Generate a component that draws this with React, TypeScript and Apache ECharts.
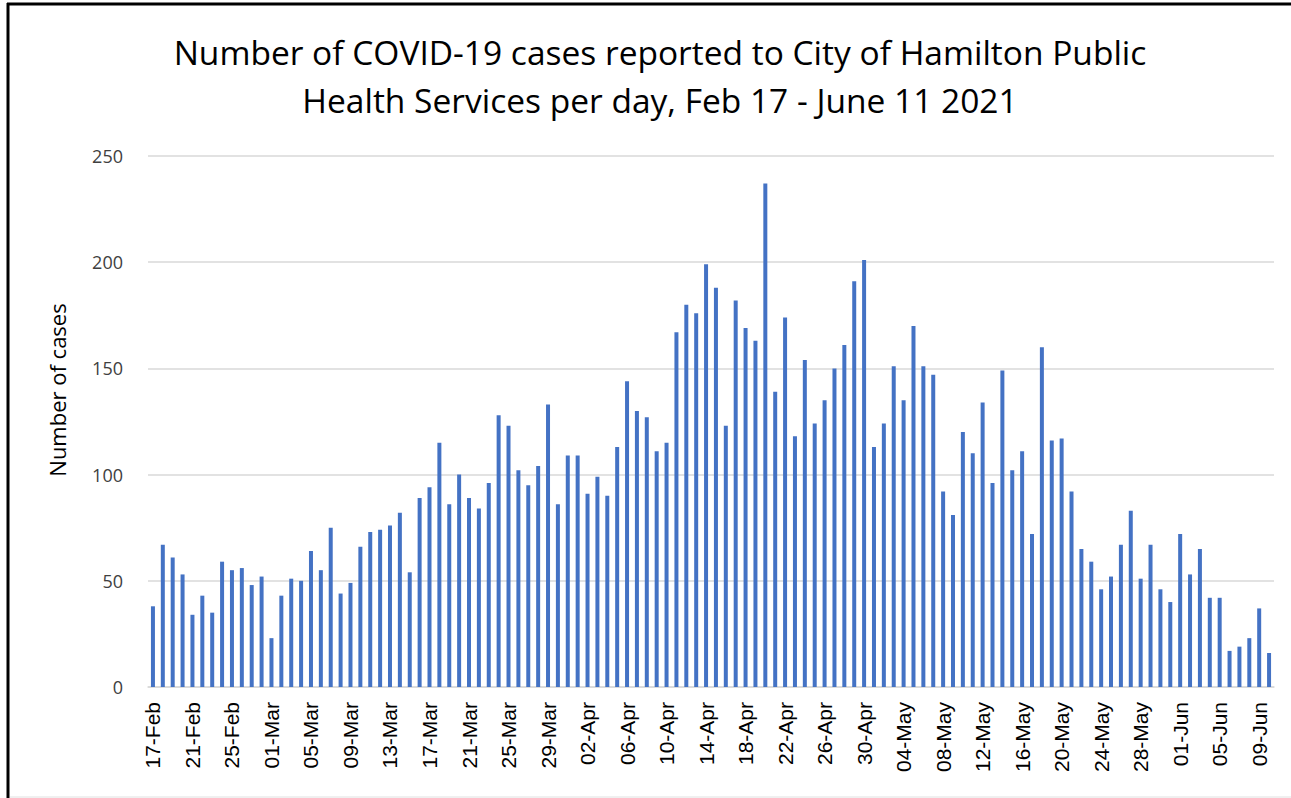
import React, { useEffect, useRef } from "react";
import * as echarts from "echarts";

const titleLines = [
  "Number of COVID-19 cases reported to City of Hamilton Public",
  "Health Services per day, Feb 17 - June 11 2021",
];
const yAxisName = "Number of cases";

const dates: string[] = [
  "17-Feb","18-Feb","19-Feb","20-Feb","21-Feb","22-Feb","23-Feb","24-Feb","25-Feb","26-Feb","27-Feb","28-Feb",
  "01-Mar","02-Mar","03-Mar","04-Mar","05-Mar","06-Mar","07-Mar","08-Mar","09-Mar","10-Mar","11-Mar","12-Mar","13-Mar","14-Mar","15-Mar","16-Mar","17-Mar","18-Mar","19-Mar","20-Mar","21-Mar","22-Mar","23-Mar","24-Mar","25-Mar","26-Mar","27-Mar","28-Mar","29-Mar","30-Mar","31-Mar",
  "01-Apr","02-Apr","03-Apr","04-Apr","05-Apr","06-Apr","07-Apr","08-Apr","09-Apr","10-Apr","11-Apr","12-Apr","13-Apr","14-Apr","15-Apr","16-Apr","17-Apr","18-Apr","19-Apr","20-Apr","21-Apr","22-Apr","23-Apr","24-Apr","25-Apr","26-Apr","27-Apr","28-Apr","29-Apr","30-Apr",
  "01-May","02-May","03-May","04-May","05-May","06-May","07-May","08-May","09-May","10-May","11-May","12-May","13-May","14-May","15-May","16-May","17-May","18-May","19-May","20-May","21-May","22-May","23-May","24-May","25-May","26-May","27-May","28-May","29-May","30-May","31-May",
  "01-Jun","02-Jun","03-Jun","04-Jun","05-Jun","06-Jun","07-Jun","08-Jun","09-Jun","10-Jun",
];

const cases: number[] = [
  38, 67, 61, 53, 34, 43, 35, 59, 55, 56, 48, 52,
  23, 43, 51, 50, 64, 55, 75, 44, 49, 66, 73, 74, 76, 82, 54, 89, 94, 115, 86, 100, 89, 84, 96, 128, 123, 102, 95, 104, 133, 86, 109,
  109, 91, 99, 90, 113, 144, 130, 127, 111, 115, 167, 180, 176, 199, 188, 123, 182, 169, 163, 237, 139, 174, 118, 154, 124, 135, 150, 161, 191, 201,
  113, 124, 151, 135, 170, 151, 147, 92, 81, 120, 110, 134, 96, 149, 102, 111, 72, 160, 116, 117, 92, 65, 59, 46, 52, 67, 83, 51, 67, 46, 40, 72,
  53, 65, 42, 42, 17, 19, 23, 37, 16,
];

const yTicks = { min: 0, max: 250, interval: 50 };

export default function App() {
  const ref = useRef<HTMLDivElement>(null);
  useEffect(() => {
    if (!ref.current) return;
    const chart = echarts.init(ref.current, null, { renderer: "svg" });
    chart.setOption({
      animation: false,
      backgroundColor: "#ffffff",
      graphic: [
        {
          type: "text",
          x: 660,
          y: 52,
          style: {
            text: titleLines[0],
            fontFamily: "Open Sans",
            fontSize: 33.5,
            fill: "#000000",
            textAlign: "center",
            textVerticalAlign: "middle",
          },
        },
        {
          type: "text",
          x: 660,
          y: 100,
          style: {
            text: titleLines[1],
            fontFamily: "Open Sans",
            fontSize: 33.5,
            fill: "#000000",
            textAlign: "center",
            textVerticalAlign: "middle",
          },
        },
        {
          type: "text",
          x: 57,
          y: 390,
          rotation: Math.PI / 2,
          style: {
            text: yAxisName,
            fontFamily: "Open Sans",
            fontSize: 22,
            fill: "#000000",
            textAlign: "center",
            textVerticalAlign: "middle",
          },
        },
        {
          type: "line",
          shape: { x1: 7, y1: 4, x2: 1291, y2: 4 },
          style: { stroke: "#000000", lineWidth: 3 },
        },
        {
          type: "line",
          shape: { x1: 8, y1: 3, x2: 8, y2: 798 },
          style: { stroke: "#000000", lineWidth: 3 },
        },
        {
          type: "line",
          shape: { x1: 10, y1: 797, x2: 1291, y2: 797 },
          style: { stroke: "#e0e0e0", lineWidth: 1 },
        },
      ],
      grid: { left: 148, right: 17, top: 156, bottom: 111, containLabel: false },
      xAxis: {
        type: "category",
        data: dates,
        axisLine: { show: true, lineStyle: { color: "#d9d9d9", width: 1.5 } },
        axisTick: { show: false },
        axisLabel: {
          interval: 3,
          rotate: 90,
          fontFamily: "Arial, 'Liberation Sans', sans-serif",
          fontSize: 21,
          color: "#000000",
          margin: 15,
        },
      },
      yAxis: {
        type: "value",
        min: yTicks.min,
        max: yTicks.max,
        interval: yTicks.interval,
        axisLine: { show: false },
        axisTick: { show: false },
        splitLine: { lineStyle: { color: "#d9d9d9", width: 1.5 } },
        axisLabel: {
          fontFamily: "Open Sans",
          fontSize: 18,
          color: "#404040",
          margin: 25,
        },
      },
      series: [
        {
          type: "bar",
          data: cases,
          barWidth: 4,
          itemStyle: { color: "#4472C4" },
        },
      ],
    });
    return () => chart.dispose();
  }, []);
  return (
    <div
      ref={ref}
      style={{ position: "absolute", left: 0, top: 0, width: 1291, height: 798 }}
    />
  );
}
